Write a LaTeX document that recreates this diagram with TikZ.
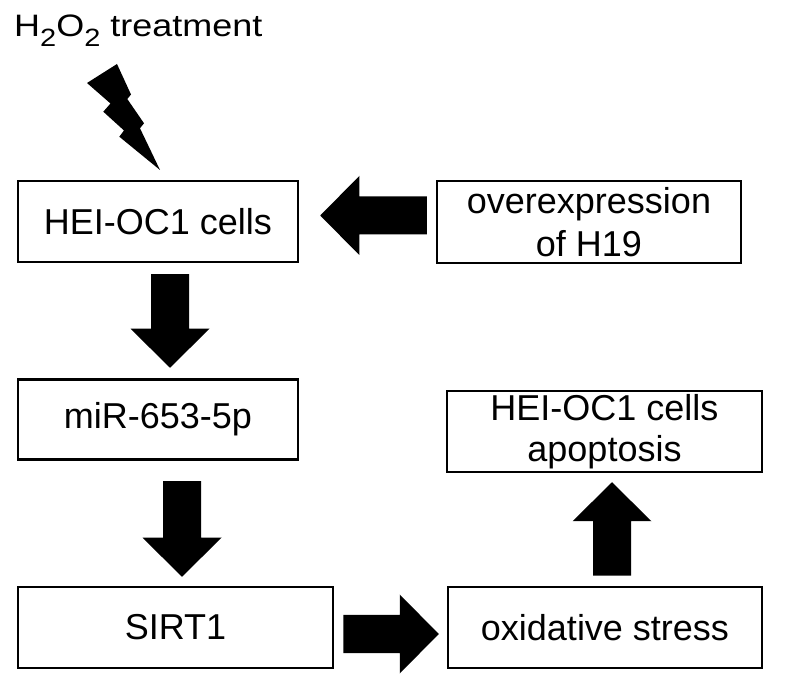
\documentclass[tikz,border=0pt]{standalone}
\usepackage{fontspec}
\setmainfont{Liberation Sans}
\usetikzlibrary{calc}
\tikzset{
  box/.style={draw, line width=2.5pt, inner sep=0pt, align=center,
    font=\fontsize{36}{43}\selectfont},
}
\newcommand{\blockarrow}[2]{%
  \coordinate (ba-h) at ($(#2)!39pt!(#1)$);
  \fill ($(#1)!19pt!90:(#2)$) -- ($(ba-h)!19pt!90:(#2)$) -- ($(ba-h)!39.5pt!90:(#2)$) -- (#2)
    -- ($(ba-h)!39.5pt!-90:(#2)$) -- ($(ba-h)!19pt!-90:(#2)$) -- ($(#1)!19pt!-90:(#2)$) -- cycle;}
\begin{document}
\begin{tikzpicture}[x=1pt,y=-1pt]
\useasboundingbox (0,0) rectangle (788,684);
% title
\node[anchor=base west, inner sep=0pt] (title) at (14,37)
  {\scalebox{1.16}[1]{\fontsize{31}{31}\selectfont H\raisebox{-10pt}{\fontsize{25}{25}\selectfont 2}O\raisebox{-10pt}{\fontsize{25}{25}\selectfont 2} treatment}};
% lightning bolt
\fill (87,83) -- (117,64) -- (131,94.5) -- (127.3,99) -- (144,123.3) -- (140,128.3) -- (160,170)
  -- (119.3,136.7) -- (124,130.5) -- (103.3,111.7) -- (110.5,103.5) -- cycle;
% boxes
\node[box, minimum width=280pt, minimum height=81pt] (cells) at (158,221.5) {HEI-OC1 cells};
\node[box, minimum width=304pt, minimum height=82pt] (over) at (589,222) {overexpression\\of H19};
\node[box, minimum width=280pt, minimum height=80pt] (mir) at (158,419.5) {miR-653-5p};
\node[box, minimum width=315pt, minimum height=81pt, font=\fontsize{36}{41}\selectfont] (apop) at (604.5,431.5) {HEI-OC1 cells\\apoptosis};
\node[box, minimum width=315pt, minimum height=81pt] (sirt) at (175.5,627.5) {SIRT1};
\node[box, minimum width=314pt, minimum height=81pt] (oxid) at (605,627.5) {oxidative stress};
% block arrows
\coordinate (a1s) at ($(cells.south)+(12,11)$);
\coordinate (a1e) at ($(mir.north)+(12,-10.5)$);
\blockarrow{a1s}{a1e}
\coordinate (a2s) at ($(mir.south)+(24,20.5)$);
\coordinate (a2e) at ($(sirt.north)+(6.5,-9)$);
\blockarrow{a2s}{a2e}
\coordinate (a3s) at ($(over.west)+(-9,-6.5)$);
\coordinate (a3e) at ($(cells.east)+(21,-6)$);
\blockarrow{a3s}{a3e}
\coordinate (a4s) at ($(sirt.east)+(9,6.5)$);
\coordinate (a4e) at ($(oxid.west)+(-8,6.5)$);
\blockarrow{a4s}{a4e}
\coordinate (a5s) at ($(oxid.north)+(7,-10)$);
\coordinate (a5e) at ($(apop.south)+(7.5,9)$);
\blockarrow{a5s}{a5e}
\end{tikzpicture}
\end{document}
